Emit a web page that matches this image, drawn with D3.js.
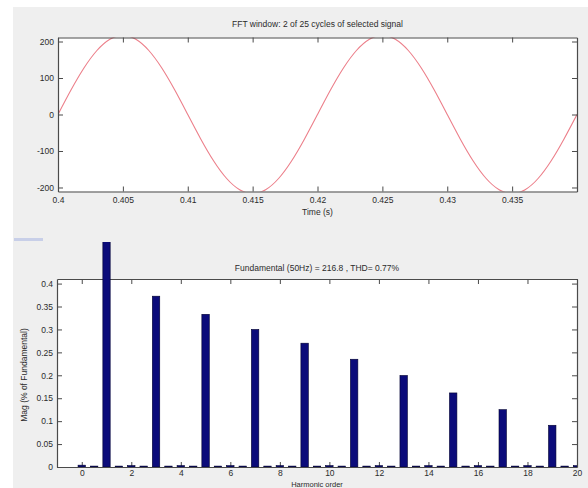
<!DOCTYPE html>
<html>
<head>
<meta charset="utf-8">
<script src="https://cdn.jsdelivr.net/npm/d3@7"></script>
<style>
  html, body { margin: 0; padding: 0; background: #ffffff; }
  svg { display: block; }
  text { font-family: "Liberation Sans", Arial, sans-serif; fill: #2b2b2b; }
</style>
</head>
<body>
<svg id="chart" width="588" height="488"></svg>
<script>
// ---- Signal window (2 cycles, sampled every 1 ms) ----
const timeSamples = [
  0.400, 0.401, 0.402, 0.403, 0.404, 0.405, 0.406, 0.407, 0.408, 0.409,
  0.410, 0.411, 0.412, 0.413, 0.414, 0.415, 0.416, 0.417, 0.418, 0.419,
  0.420, 0.421, 0.422, 0.423, 0.424, 0.425, 0.426, 0.427, 0.428, 0.429,
  0.430, 0.431, 0.432, 0.433, 0.434, 0.435, 0.436, 0.437, 0.438, 0.439,
  0.440
];
const signalValues = [
  0, 67.0, 127.4, 175.4, 206.2, 216.8, 206.2, 175.4, 127.4, 67.0,
  0, -67.0, -127.4, -175.4, -206.2, -216.8, -206.2, -175.4, -127.4, -67.0,
  0, 67.0, 127.4, 175.4, 206.2, 216.8, 206.2, 175.4, 127.4, 67.0,
  0, -67.0, -127.4, -175.4, -206.2, -216.8, -206.2, -175.4, -127.4, -67.0,
  0
];
const timeTicks = [0.4, 0.405, 0.41, 0.415, 0.42, 0.425, 0.43, 0.435];
const timeTickLabels = ["0.4", "0.405", "0.41", "0.415", "0.42", "0.425", "0.43", "0.435"];
const signalTicks = [200, 100, 0, -100, -200];
const signalTickLabels = ["200", "100", "0", "-100", "-200"];

// ---- Harmonic spectrum (% of fundamental), 25 Hz resolution ----
const harmonicOrder = [
  0, 0.5, 1, 1.5, 2, 2.5, 3, 3.5, 4, 4.5,
  5, 5.5, 6, 6.5, 7, 7.5, 8, 8.5, 9, 9.5,
  10, 10.5, 11, 11.5, 12, 12.5, 13, 13.5, 14, 14.5,
  15, 15.5, 16, 16.5, 17, 17.5, 18, 18.5, 19, 19.5, 20
];
const harmonicMag = [
  0.004, 0.002, 100, 0.002, 0.003, 0.002, 0.3725, 0.002, 0.003, 0.002,
  0.333, 0.002, 0.003, 0.002, 0.300, 0.002, 0.003, 0.002, 0.270, 0.002,
  0.003, 0.002, 0.235, 0.002, 0.003, 0.002, 0.1996, 0.002, 0.003, 0.002,
  0.1615, 0.002, 0.003, 0.002, 0.125, 0.002, 0.003, 0.002, 0.091, 0.002, 0.003
];
const harmonicTicks = [0, 2, 4, 6, 8, 10, 12, 14, 16, 18, 20];
const harmonicTickLabels = ["0", "2", "4", "6", "8", "10", "12", "14", "16", "18", "20"];
const magTicks = [0, 0.05, 0.1, 0.15, 0.2, 0.25, 0.3, 0.35, 0.4];
const magTickLabels = ["0", "0.05", "0.1", "0.15", "0.2", "0.25", "0.3", "0.35", "0.4"];

const fundamentalHz = 50;
const fundamentalMag = 216.8;
const thdPercent = 0.77;

// ---- Drawing ----
const svg = d3.select("#chart");
const W = 588, H = 488;
const figBg = "#efefef";
const axisCol = "#4a4a4a";
const tickLen = 5;
const fontSize = 8.5;

// figure background (the window frame starts a little in from the left/top)
svg.append("rect").attr("x", 13).attr("y", 7).attr("width", W - 13).attr("height", H - 7).attr("fill", figBg);

function boxAxes(g, x, y, xTicks, xLabels, yTicks, yLabels, xPad) {
  const [x0, x1] = x.range();
  const [y0, y1] = y.range(); // y0 bottom, y1 top
  // inward ticks on all four sides, labels only bottom and left
  const axB = d3.axisBottom(x).tickValues(xTicks).tickSizeInner(-tickLen).tickSizeOuter(0)
    .tickPadding(xPad).tickFormat((d, i) => xLabels[i]);
  const axT = d3.axisTop(x).tickValues(xTicks).tickSizeInner(-tickLen).tickSizeOuter(0).tickFormat("");
  const axL = d3.axisLeft(y).tickValues(yTicks).tickSizeInner(-tickLen).tickSizeOuter(0)
    .tickPadding(4).tickFormat((d, i) => yLabels[i]);
  const axR = d3.axisRight(y).tickValues(yTicks).tickSizeInner(-tickLen).tickSizeOuter(0).tickFormat("");

  const gb = g.append("g").attr("transform", `translate(0,${y0})`).call(axB);
  const gt = g.append("g").attr("transform", `translate(0,${y1})`).call(axT);
  const gl = g.append("g").attr("transform", `translate(${x0},0)`).call(axL);
  const gr = g.append("g").attr("transform", `translate(${x1},0)`).call(axR);
  [gb, gt, gl, gr].forEach(a => {
    a.select(".domain").attr("stroke", axisCol).attr("stroke-width", 1.2);
    a.selectAll(".tick line").attr("stroke", axisCol).attr("stroke-width", 1);
    a.selectAll(".tick text").attr("font-size", fontSize).attr("fill", "#333")
      .attr("font-family", "'Liberation Sans', Arial, sans-serif");
  });
  gb.selectAll(".tick text").attr("y", xPad);
  gl.selectAll(".tick text").attr("x", -4);
}

// ===== Top plot: time signal =====
const topBox = { left: 58, right: 577, top: 37.5, bottom: 191.5 };
const xT = d3.scaleLinear().domain([0.4, 0.44]).range([topBox.left, topBox.right]);
const yT = d3.scaleLinear().domain([-211, 211]).range([topBox.bottom, topBox.top]);

const gTop = svg.append("g");
gTop.append("rect").attr("x", topBox.left).attr("y", topBox.top)
  .attr("width", topBox.right - topBox.left).attr("height", topBox.bottom - topBox.top).attr("fill", "#ffffff");

svg.append("clipPath").attr("id", "clipTop").append("rect")
  .attr("x", topBox.left).attr("y", topBox.top)
  .attr("width", topBox.right - topBox.left).attr("height", topBox.bottom - topBox.top);

const line = d3.line().x((d, i) => xT(timeSamples[i])).y(d => yT(d)).curve(d3.curveNatural);
gTop.append("path").datum(signalValues).attr("d", line).attr("fill", "none")
  .attr("stroke", "#ec7f8a").attr("stroke-width", 1.1).attr("clip-path", "url(#clipTop)");

boxAxes(gTop, xT, yT, timeTicks, timeTickLabels, signalTicks, signalTickLabels, 5);

gTop.append("text").attr("x", (topBox.left + topBox.right) / 2).attr("y", 27)
  .attr("text-anchor", "middle").attr("font-size", fontSize)
  .text("FFT window: 2 of 25 cycles of selected signal");
gTop.append("text").attr("x", (topBox.left + topBox.right) / 2).attr("y", 215)
  .attr("text-anchor", "middle").attr("font-size", fontSize).text("Time (s)");

// small faint control stub above the spectrum
svg.append("rect").attr("x", 14).attr("y", 238).attr("width", 29).attr("height", 3).attr("fill", "#c8cfe8");

// ===== Bottom plot: harmonic spectrum =====
const botBox = { left: 57, right: 577, top: 279, bottom: 467 };
const xB = d3.scaleLinear().domain([-1, 20]).range([botBox.left, botBox.right]);
const yB = d3.scaleLinear().domain([0, 0.41]).range([botBox.bottom, botBox.top]);

const gBot = svg.append("g");
gBot.append("rect").attr("x", botBox.left).attr("y", botBox.top)
  .attr("width", botBox.right - botBox.left).attr("height", botBox.bottom - botBox.top).attr("fill", "#ffffff");

// the fundamental bar runs past the axes up to the panel edge
svg.append("clipPath").attr("id", "clipBars").append("rect")
  .attr("x", botBox.left).attr("y", 242).attr("width", botBox.right - botBox.left).attr("height", botBox.bottom - 242);

const barW = xB(0.3) - xB(0);
boxAxes(gBot, xB, yB, harmonicTicks, harmonicTickLabels, magTicks, magTickLabels, 3);

gBot.append("g").attr("clip-path", "url(#clipBars)")
  .selectAll("rect.bar").data(harmonicMag).join("rect").attr("class", "bar")
  .attr("x", (d, i) => xB(harmonicOrder[i]) - barW / 2)
  .attr("width", barW)
  .attr("y", d => yB(d))
  .attr("height", d => yB(0) - yB(d))
  .attr("fill", "#0b0b7a").attr("stroke", "#000030").attr("stroke-width", 0.6);

gBot.append("text").attr("x", (botBox.left + botBox.right) / 2).attr("y", 271)
  .attr("text-anchor", "middle").attr("font-size", fontSize)
  .text(`Fundamental (${fundamentalHz}Hz) = ${fundamentalMag} , THD= ${thdPercent}%`);
gBot.append("text").attr("x", (botBox.left + botBox.right) / 2).attr("y", 487)
  .attr("text-anchor", "middle").attr("font-size", 7.5).text("Harmonic order");
gBot.append("text").attr("transform", `translate(27,${(botBox.top + botBox.bottom) / 2 + 2}) rotate(-90)`)
  .attr("text-anchor", "middle").attr("font-size", fontSize).text("Mag (% of Fundamental)");
</script>
</body>
</html>
